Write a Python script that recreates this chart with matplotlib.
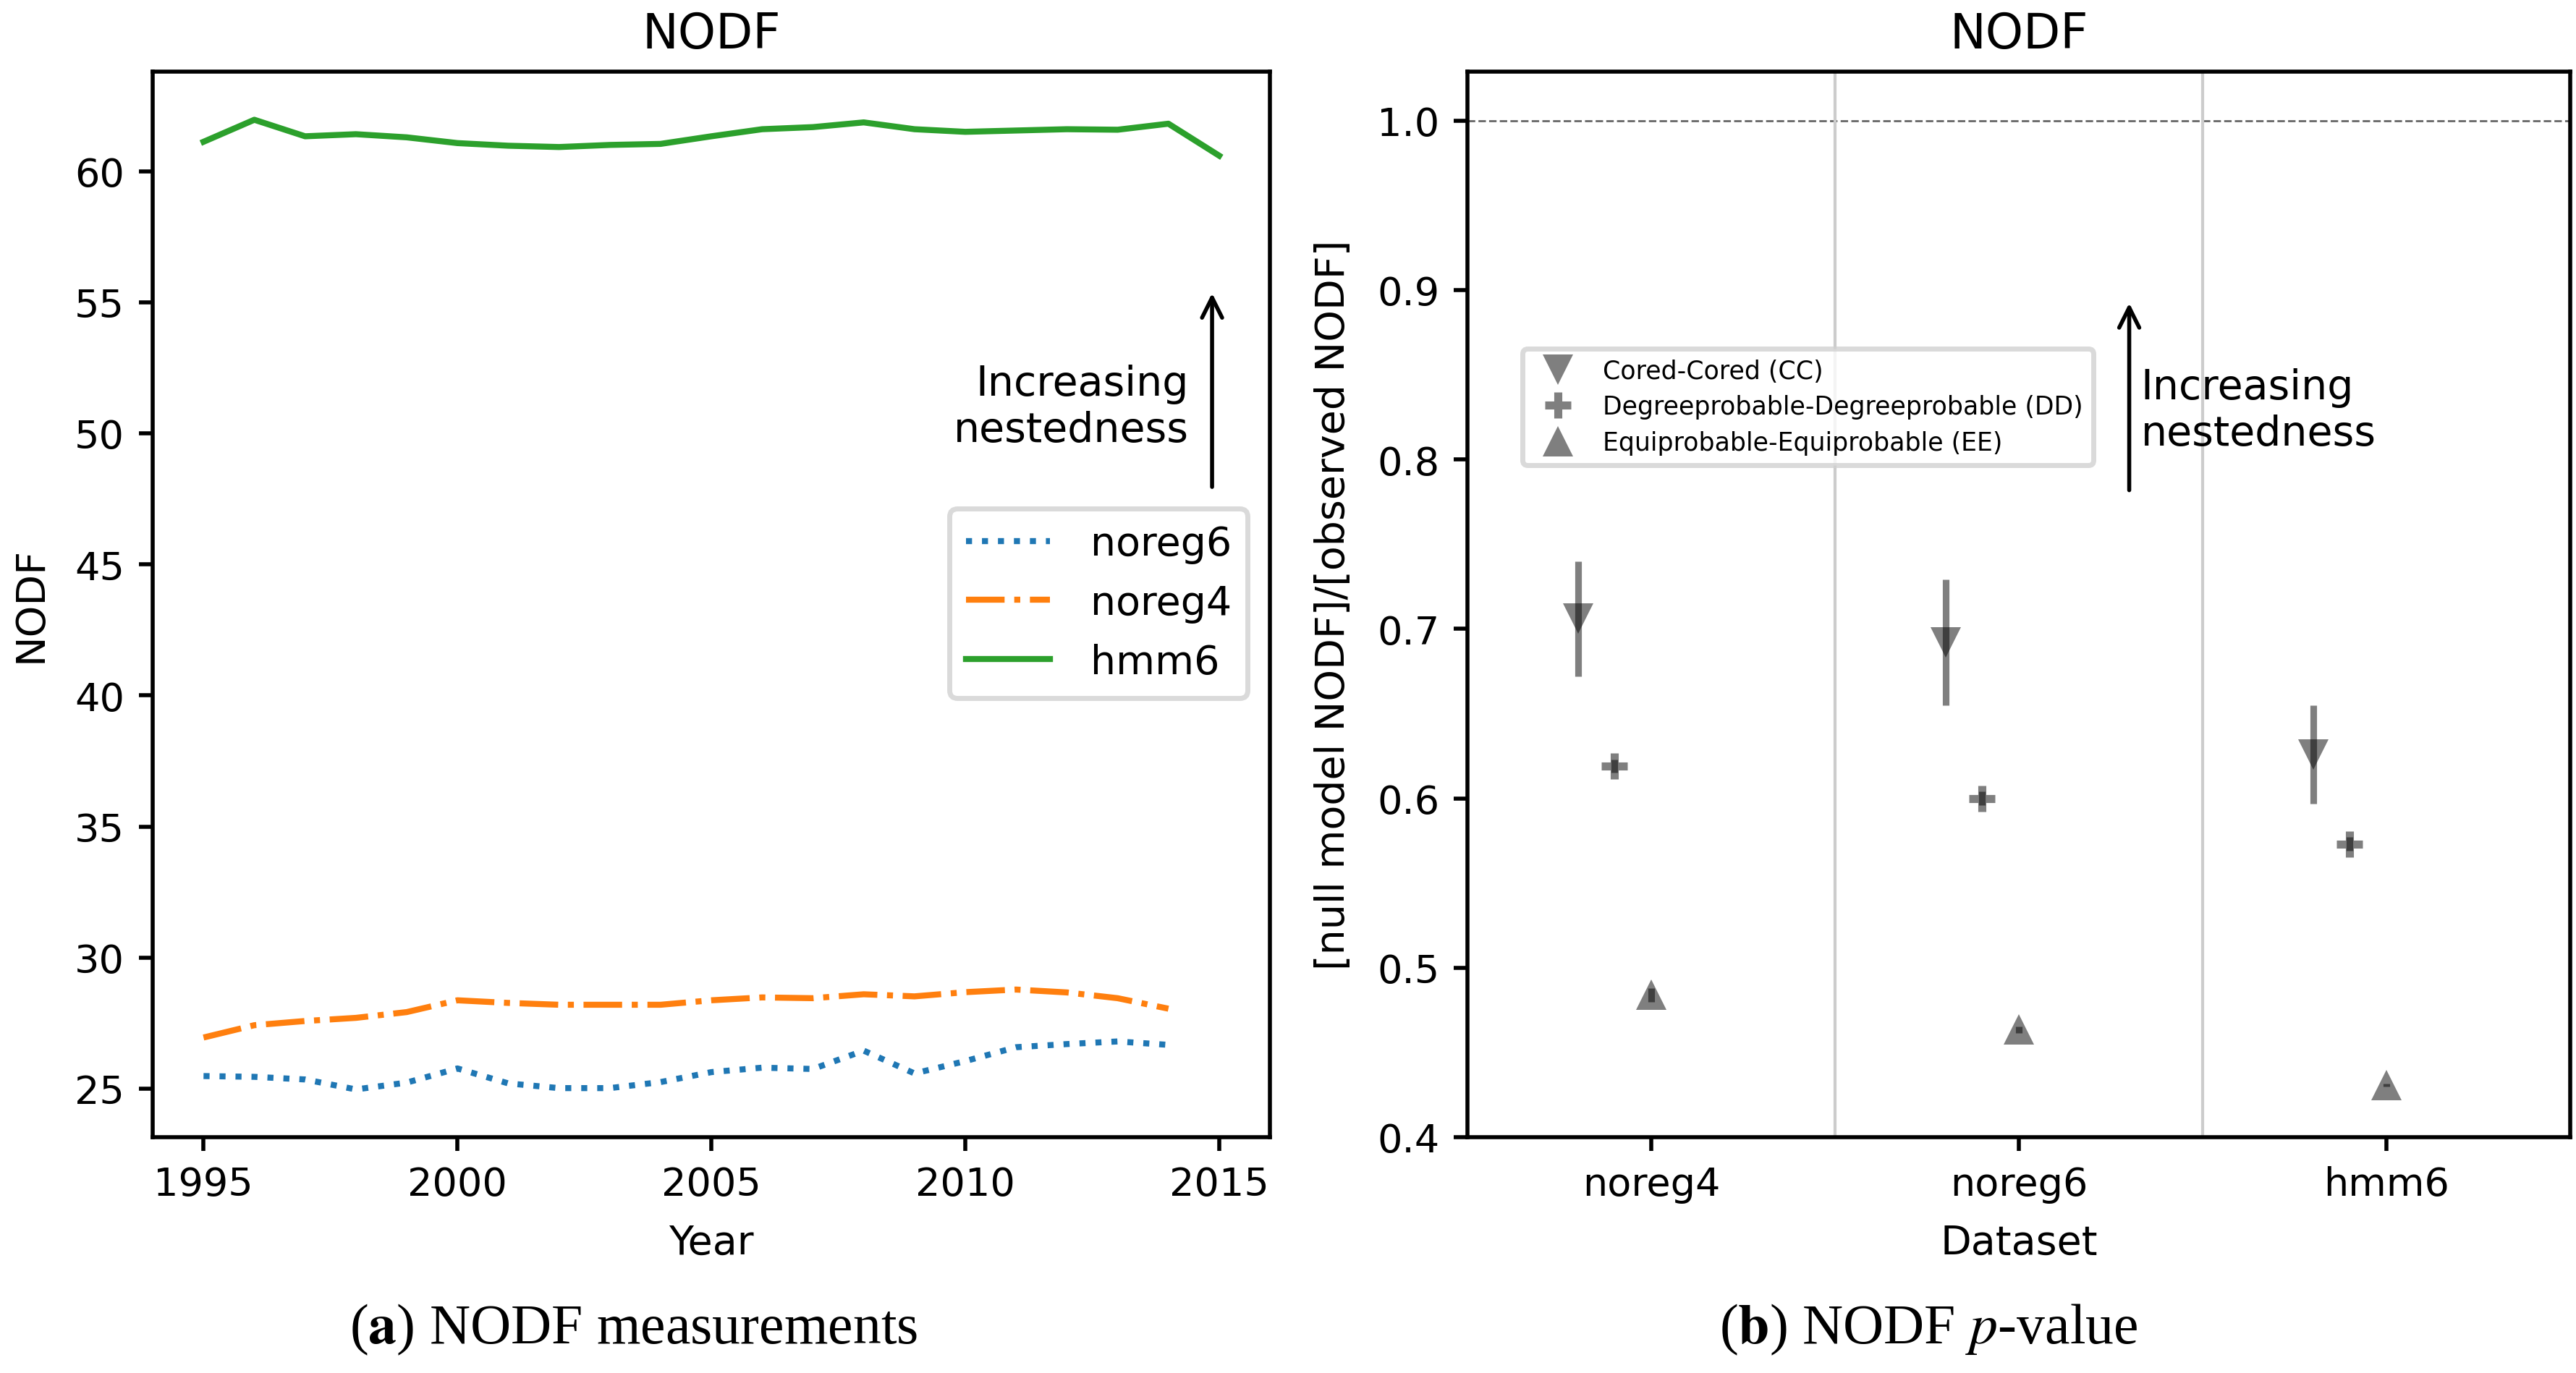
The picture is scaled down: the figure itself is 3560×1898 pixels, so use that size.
import matplotlib
matplotlib.use('Agg')
import matplotlib.pyplot as plt
import numpy as np

plt.rcParams['font.family'] = ['DejaVu Sans']
plt.rcParams['mathtext.fontset'] = 'stix'

# ---- data: panel (a) NODF per year
years = list(range(1995, 2016))
noreg6 = [25.48, 25.45, 25.35, 24.97, 25.23, 25.77, 25.20, 25.02, 25.02, 25.25,
          25.63, 25.80, 25.75, 26.45, 25.58, 26.05, 26.58, 26.70, 26.80, 26.67]
noreg4 = [26.95, 27.42, 27.58, 27.70, 27.92, 28.37, 28.27, 28.20, 28.20, 28.20,
          28.37, 28.48, 28.45, 28.60, 28.52, 28.68, 28.78, 28.67, 28.45, 28.05]
hmm6 = [61.12, 61.96, 61.33, 61.41, 61.29, 61.07, 60.97, 60.92, 61.00, 61.04,
        61.33, 61.60, 61.68, 61.86, 61.60, 61.50, 61.55, 61.60, 61.58, 61.81, 60.59]

# ---- data: panel (b) null model / observed ratio
datasets = ['noreg4', 'noreg6', 'hmm6']
cc_mean = [0.706, 0.692, 0.626]
cc_err = [0.034, 0.037, 0.029]
dd_mean = [0.619, 0.600, 0.573]
dd_err = [0.004, 0.004, 0.004]
ee_mean = [0.484, 0.4635, 0.4307]
ee_err = [0.004, 0.002, 0.001]

fig = plt.figure(figsize=(17.8, 9.495), dpi=200)
ax1 = fig.add_axes([0.0593, 0.1717, 0.4337, 0.7757])
ax2 = fig.add_axes([0.5697, 0.1717, 0.4281, 0.7757])

tick_fs = 19.5
for ax in (ax1, ax2):
    for s in ax.spines.values():
        s.set_linewidth(2)
    ax.tick_params(labelsize=tick_fs, length=7, width=2, pad=7)

leg_frame = dict(edgecolor='0.82', fancybox=True)

# ---- panel (a)
ax1.plot(years[:-1], noreg6, ls=':', lw=3, color='#1f77b4', label='noreg6')
ax1.plot(years[:-1], noreg4, ls='-.', lw=3, color='#ff7f0e', label='noreg4')
ax1.plot(years, hmm6, ls='-', lw=3, color='#2ca02c', label='hmm6')
ax1.set_xlim(1994, 2016)
ax1.set_ylim(23.15, 63.8)
ax1.set_xticks([1995, 2000, 2005, 2010, 2015])
ax1.set_yticks([25, 30, 35, 40, 45, 50, 55, 60])
ax1.set_xlabel('Year', fontsize=20, labelpad=10)
ax1.set_ylabel('NODF', fontsize=20, labelpad=12)
ax1.set_title('NODF', fontsize=24, pad=12)
ax1.annotate('', xy=(2014.86, 55.5), xytext=(2014.86, 47.8),
             arrowprops=dict(arrowstyle='->', lw=2, color='k', mutation_scale=25))
ax1.text(2014.4, 51.0, 'Increasing\nnestedness', ha='right', va='center', fontsize=20.5)
leg1 = ax1.legend(loc='upper right', bbox_to_anchor=(0.98, 0.59), borderaxespad=0,
                  fontsize=20, handlelength=2.1, handletextpad=1.0, **leg_frame)
leg1.get_frame().set_linewidth(2.5)

# ---- panel (b)
x = np.arange(len(datasets))
ax2.axhline(1.0, ls='--', lw=1, color='0.4')
for sep in [0.5, 1.5]:
    ax2.axvline(sep, color='0.8', lw=1.5)
ax2.errorbar(x - 0.2, cc_mean, yerr=cc_err, fmt='v', color='k', alpha=0.5,
             ms=15, mew=0, elinewidth=3.3, label='Cored-Cored (CC)')
ax2.errorbar(x - 0.1, dd_mean, yerr=dd_err, fmt='+', color='k', alpha=0.5,
             ms=13, mew=4, elinewidth=3.3, label='Degreeprobable-Degreeprobable (DD)')
ax2.errorbar(x, ee_mean, yerr=ee_err, fmt='^', color='k', alpha=0.5,
             ms=15, mew=0, elinewidth=3.3, label='Equiprobable-Equiprobable (EE)')
ax2.set_xlim(-0.5, 2.5)
ax2.set_ylim(0.4, 1.029)
ax2.set_xticks(x)
ax2.set_xticklabels(datasets)
ax2.set_yticks([0.4, 0.5, 0.6, 0.7, 0.8, 0.9, 1.0])
ax2.set_xlabel('Dataset', fontsize=20, labelpad=10)
ax2.set_ylabel('[null model NODF]/[observed NODF]', fontsize=20, labelpad=12)
ax2.set_title('NODF', fontsize=24, pad=12)
ax2.annotate('', xy=(1.3, 0.8947), xytext=(1.3, 0.7795),
             arrowprops=dict(arrowstyle='->', lw=2, color='k', mutation_scale=25))
ax2.text(1.332, 0.829, 'Increasing\nnestedness', ha='left', va='center', fontsize=20.5)
handles, labels = ax2.get_legend_handles_labels()
handles = [h[0] for h in handles]
leg2 = ax2.legend(handles, labels, loc='upper left', bbox_to_anchor=(0.05, 0.74),
                  borderaxespad=0, fontsize=12.5, labelspacing=0.45, **leg_frame)
leg2.get_frame().set_linewidth(2.5)

# ---- captions
fig.text(876 / 3560, 1 - 1838 / 1899, r'($\mathbf{a}$) NODF measurements',
         ha='center', va='center', fontsize=28, family='Liberation Serif')
fig.text(2665 / 3560, 1 - 1838 / 1899, r'($\mathbf{b}$) NODF $p$-value',
         ha='center', va='center', fontsize=28, family='Liberation Serif')

fig.savefig('out.png', dpi=200, facecolor='white')
